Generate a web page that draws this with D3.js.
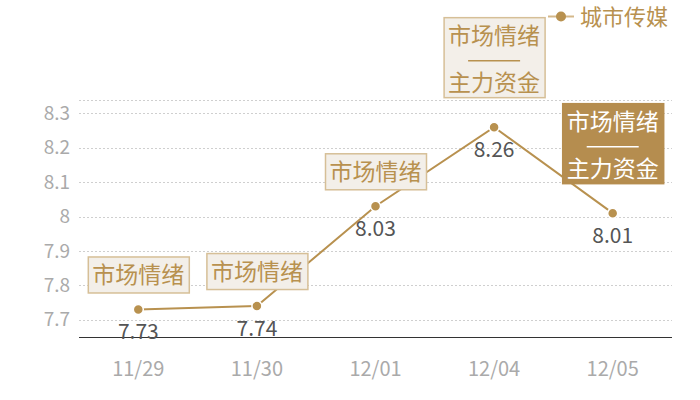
<!DOCTYPE html>
<html><head><meta charset="utf-8">
<script src="https://cdn.jsdelivr.net/npm/d3@7"></script>
<style>body{margin:0;background:#fff}svg{display:block}text{font-family:"Noto Sans CJK SC","Noto Sans",sans-serif}</style>
</head><body><svg id="c" width="700" height="400"></svg>
<script>
const categories = ["11/29","11/30","12/01","12/04","12/05"];
const values = [7.73, 7.74, 8.03, 8.26, 8.01];
const yTicks = [7.7, 7.8, 7.9, 8, 8.1, 8.2, 8.3];
const seriesName = "城市传媒";
const annoLines = [["市场情绪"],["市场情绪"],["市场情绪"],["市场情绪","主力资金"],["市场情绪","主力资金"]];
const annoFilled = [false,false,false,false,true];

const main = "#b8914f";
const svg = d3.select("#c");
const pL = 79, pR = 672, pT = 100, pB = 337;

const x = d3.scaleBand().domain(categories).range([pL, pR]);
const y = d3.scaleLinear().domain([7.65, 8.339]).range([pB, pT]);

// grid
svg.append("g").selectAll("line").data(yTicks.concat([8.339])).join("line")
  .attr("x1", pL).attr("x2", pR)
  .attr("y1", d => Math.round(y(d)) + 0.5).attr("y2", d => Math.round(y(d)) + 0.5)
  .attr("stroke", "#cfcfcf").attr("stroke-dasharray", "2,2").attr("stroke-width", 1);

// y axis labels
const yAxis = d3.axisLeft(y).tickValues(yTicks).tickSize(0).tickPadding(9).tickFormat(d3.format("~g"));
svg.append("g").attr("transform", `translate(${pL},0)`).call(yAxis)
  .call(s => s.select(".domain").remove())
  .call(s => s.selectAll("text").attr("fill", "#aaa").attr("font-size", 19)
    .attr("font-family", "'Noto Sans CJK SC', sans-serif"));

// x axis
const xAxis = d3.axisBottom(x).tickSize(0).tickPadding(25);
svg.append("g").attr("transform", `translate(0,${pB})`).call(xAxis)
  .call(s => s.select(".domain").attr("stroke", "#333").attr("d", `M${pL},0.5H${pR}`))
  .call(s => s.selectAll("text").attr("fill", "#aaa").attr("font-size", 20)
    .attr("font-family", "'Noto Sans CJK SC', sans-serif"));

const cx = (d, i) => x(categories[i]) + x.bandwidth() / 2;

// line
svg.append("path").datum(values)
  .attr("d", d3.line().x((d, i) => cx(d, i)).y(d => y(d)))
  .attr("fill", "none").attr("stroke", main).attr("stroke-width", 2);

// dots
svg.selectAll("circle.pt").data(values).join("circle")
  .attr("cx", (d, i) => cx(d, i)).attr("cy", d => y(d)).attr("r", 5)
  .attr("fill", main).attr("stroke", "#fff").attr("stroke-width", 1.5);

// value labels
svg.selectAll("text.val").data(values).join("text")
  .attr("x", (d, i) => cx(d, i)).attr("y", d => y(d) + 30)
  .attr("text-anchor", "middle").attr("font-size", 21).attr("fill", "#555")
  .text(d => d3.format(".2f")(d));

// annotations
const bw = 101;
annoLines.forEach((lines, i) => {
  const px = cx(values[i], i), py = y(values[i]);
  const two = lines.length > 1;
  const bh = two ? 80 : 36;
  const gap = two ? 30 : 17;
  const bx = px - bw / 2, by = py - gap - bh;
  const filled = annoFilled[i];
  const a = svg.append("g");
  a.append("rect").attr("x", bx + 0.5).attr("y", by + 0.5).attr("width", bw).attr("height", bh)
    .attr("fill", filled ? "#b58d4f" : "#f3efe9")
    .attr("stroke", filled ? "#b58d4f" : "#d6bf97").attr("stroke-width", 1.5);
  const tc = filled ? "#fff" : main;
  if (!two) {
    a.append("text").attr("x", px).attr("y", by + bh / 2 + 8.5).attr("text-anchor", "middle")
      .attr("font-size", 23).attr("fill", tc).text(lines[0]);
  } else {
    a.append("text").attr("x", px).attr("y", by + 27).attr("text-anchor", "middle")
      .attr("font-size", 23).attr("fill", tc).text(lines[0]);
    a.append("line").attr("x1", px - 26).attr("x2", px + 26).attr("y1", by + 43.5).attr("y2", by + 43.5)
      .attr("stroke", tc).attr("stroke-width", 1.5);
    a.append("text").attr("x", px).attr("y", by + 74).attr("text-anchor", "middle")
      .attr("font-size", 23).attr("fill", tc).text(lines[1]);
  }
});

// legend
const lg = svg.append("g");
lg.append("line").attr("x1", 548).attr("x2", 574).attr("y1", 16.5).attr("y2", 16.5)
  .attr("stroke", "#d4b88a").attr("stroke-width", 2);
lg.append("circle").attr("cx", 561).attr("cy", 16.5).attr("r", 5).attr("fill", main);
lg.append("text").attr("x", 580).attr("y", 25).attr("font-size", 22).attr("fill", main).text(seriesName);
</script></body></html>
